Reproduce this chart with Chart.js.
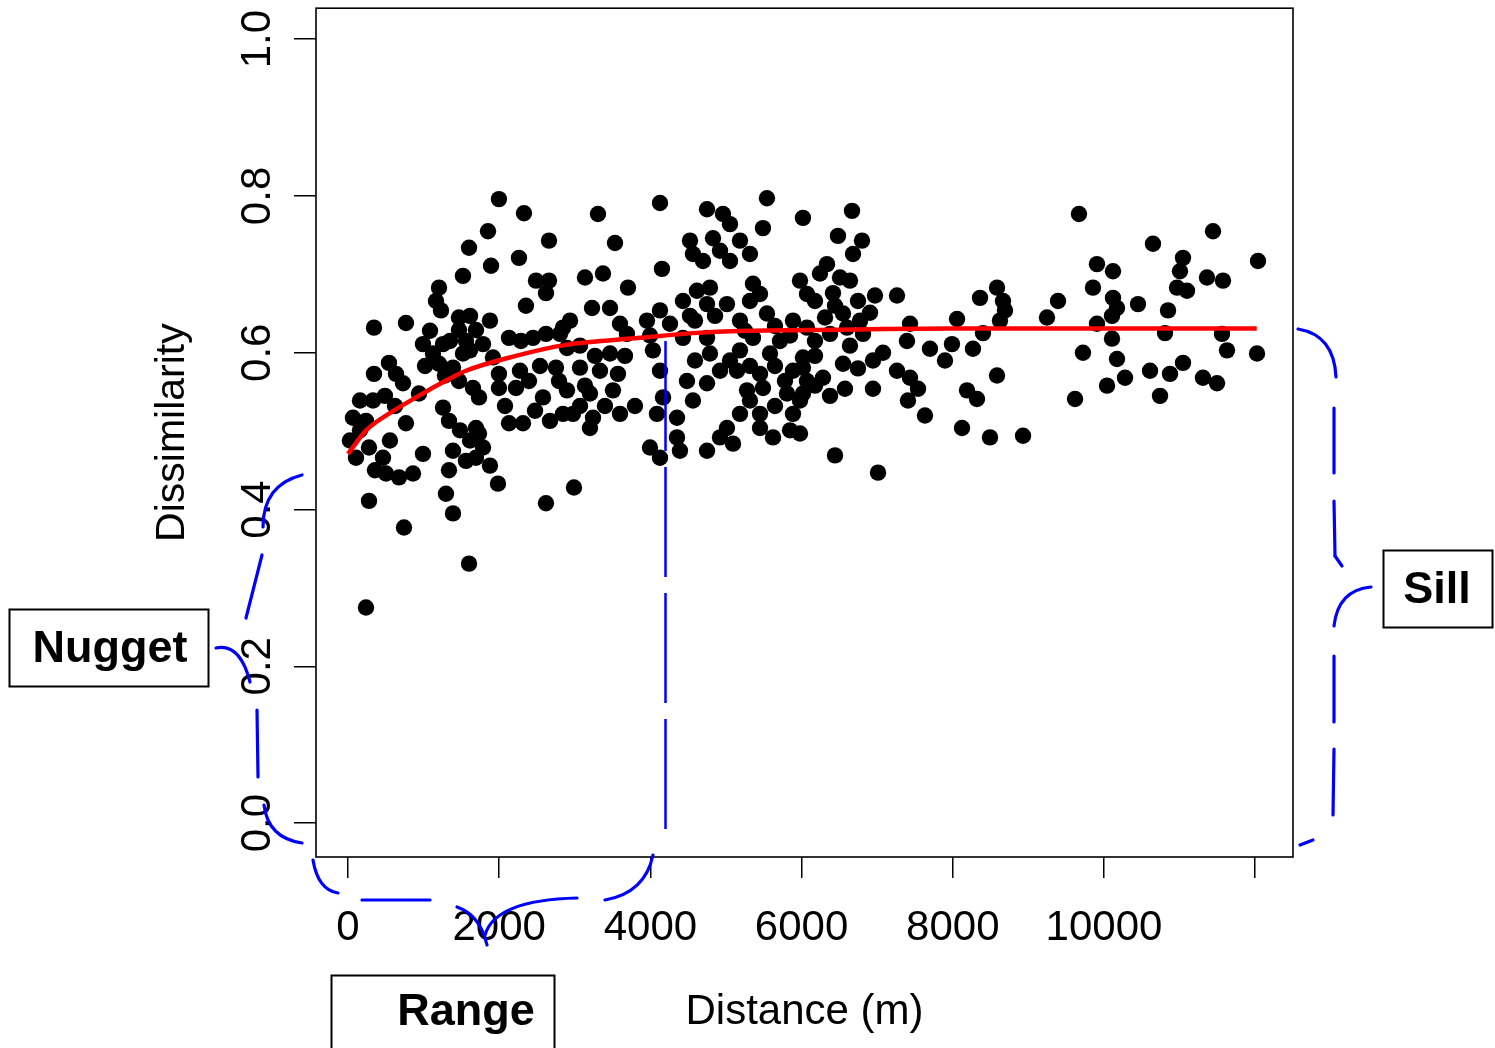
<!DOCTYPE html>
<html>
<head>
<meta charset="utf-8">
<script src="https://cdn.jsdelivr.net/npm/chart.js@4.4.0/dist/chart.umd.min.js"></script>
<style>
html,body{margin:0;padding:0;background:#fff;}
#wrap{width:1495px;height:1048px;position:relative;}
</style>
</head>
<body>
<div id="wrap"><canvas id="c"></canvas></div>
<script>
// ---- data ----
const distance = [
1997,2328,1852,2659,1601,2262,1892,1521,2487,2659,2619,1204,1164,1230,2354,344,767,1468,2844,1468,
1693,1786,1561,2130,2447,2619,1257,1124,1204,1521,1389,1997,542,344,635,728,939,1468,1653,1733,
1997,2222,2394,2579,2751,2791,331,66,238,1257,1336,2130,2315,2844,767,1693,106,278,463,503,
675,860,992,1389,1561,1693,1786,1733,1336,1984,2619,278,1296,1389,741,1601,238,2989,992,1918,
2288,3307,4127,5542,4749,4960,5053,5489,6018,3532,4828,4563,4696,5053,5317,4153,3135,3373,3704,5357,
5979,4788,5450,3228,3466,4431,4127,4749,5013,2937,3598,3955,4259,5185,5542,5886,2804,3690,4431,4749,
5357,5714,2897,3466,4034,4788,5185,5582,6018,3069,3333,3571,4127,4484,4749,5146,5450,5886,2897,3201,
3505,4167,4563,5278,5489,5807,2976,3241,3598,4087,4352,5185,5450,5886,6071,3201,4352,4391,3995,4127,
4749,4921,5093,5013,5450,5622,5847,6667,6481,6799,6680,6336,6243,6508,6640,6071,7262,8360,8585,8664,
8690,6746,6905,6310,6548,6601,7434,8056,8624,9246,6071,6376,6812,7394,8399,7989,8267,7698,7897,7077,
6944,6548,6746,6018,6283,7262,7434,7540,8585,6574,6944,6018,8188,8320,7407,7632,8122,8492,8929,6442,
7011,5979,6415,9669,10648,11442,12037,9907,10119,11045,11005,10966,11098,11362,11574,9854,9392,10119,10172,10106,
10450,10847,9907,10807,11561,10106,9722,10172,11627,12024,11045,10609,10873,11309,11495,10278,10040,10741,9617,
4524,5185,4921,4616,4855,4524,5317,5648,5251,5847,3069,3267,3664,3135,3995,4590,5053,5317,5648,5780,
5317,5648,5979,4590,4921,3069,3399,3796,1349,1614,1878,1085,1614,2275,2540,2474,2672,2077,1019,1283,
489,159,622,6177,6442,6773,6177,6640,6971,6177,6177,6376,26,159,357,555,1481,1614,1878
];
const dissimilarity = [
0.796,0.778,0.755,0.743,0.734,0.721,0.711,0.698,0.692,0.692,0.676,0.683,0.666,0.654,0.660,0.632,0.638,0.645,0.632,0.629,
0.629,0.611,0.615,0.619,0.619,0.624,0.611,0.599,0.586,0.599,0.581,0.573,0.587,0.573,0.573,0.561,0.548,0.564,0.555,0.543,
0.555,0.555,0.564,0.543,0.581,0.564,0.539,0.517,0.513,0.530,0.513,0.510,0.510,0.522,0.510,0.504,0.466,0.479,0.466,0.446,
0.441,0.446,0.471,0.475,0.462,0.466,0.479,0.497,0.450,0.433,0.408,0.411,0.420,0.395,0.377,0.331,0.275,0.428,0.611,0.594,
0.615,0.777,0.791,0.797,0.783,0.777,0.764,0.759,0.772,0.740,0.746,0.726,0.717,0.717,0.726,0.707,0.696,0.701,0.683,0.688,
0.692,0.683,0.675,0.657,0.657,0.666,0.654,0.662,0.662,0.641,0.637,0.641,0.637,0.641,0.650,0.641,0.624,0.624,0.619,0.619,
0.619,0.615,0.606,0.599,0.603,0.599,0.603,0.599,0.594,0.581,0.577,0.573,0.577,0.564,0.561,0.577,0.573,0.577,0.552,0.548,
0.552,0.543,0.539,0.552,0.555,0.548,0.522,0.517,0.522,0.522,0.517,0.522,0.522,0.522,0.564,0.504,0.492,0.475,0.479,0.466,
0.475,0.492,0.484,0.504,0.504,0.492,0.501,0.781,0.749,0.743,0.726,0.713,0.701,0.696,0.692,0.675,0.673,0.670,0.683,0.666,
0.654,0.666,0.651,0.645,0.650,0.632,0.637,0.643,0.641,0.645,0.632,0.624,0.624,0.615,0.625,0.611,0.605,0.605,0.590,0.600,
0.590,0.586,0.580,0.581,0.568,0.577,0.568,0.554,0.571,0.554,0.554,0.548,0.552,0.541,0.539,0.520,0.504,0.492,0.494,0.469,
0.447,0.497,0.676,0.777,0.739,0.755,0.717,0.713,0.704,0.721,0.704,0.683,0.679,0.696,0.692,0.683,0.666,0.670,0.657,0.647,
0.662,0.654,0.637,0.625,0.624,0.618,0.600,0.592,0.603,0.599,0.587,0.577,0.573,0.568,0.561,0.568,0.558,0.545,0.541,
0.743,0.743,0.730,0.679,0.647,0.647,0.666,0.634,0.628,0.622,0.609,0.596,0.596,0.558,0.622,0.641,0.590,0.583,0.583,0.564,
0.539,0.532,0.539,0.590,0.577,0.532,0.532,0.532,0.615,0.647,0.641,0.628,0.603,0.577,0.583,0.526,0.513,0.532,0.583,0.571,
0.545,0.539,0.532,0.666,0.660,0.641,0.615,0.609,0.673,0.596,0.558,0.545,0.488,0.501,0.450,0.488,0.501,0.488,0.456
];
// fitted model curve
const curveDistance = [0, 240, 570, 900, 1230, 1560, 2220, 2880, 3860, 4560, 5280, 6110, 7960, 12020];
const curveDissimilarity = [0.471, 0.501, 0.524, 0.543, 0.561, 0.577, 0.596, 0.610, 0.619, 0.625, 0.628, 0.629, 0.631, 0.631];
// range marker (blue dashed vertical)
const rangeDistance = [4200, 4200];
const rangeDissimilarity = [0.615, -0.018];
// axes
const xTickValues = [0, 2000, 4000, 6000, 8000, 10000, 12000];
const xTickLabels = ['0', '2000', '4000', '6000', '8000', '10000', ''];
const yTickValues = [0, 0.2, 0.4, 0.6, 0.8, 1.0];
const yTickLabels = ['0.0', '0.2', '0.4', '0.6', '0.8', '1.0'];
const xTitle = 'Distance (m)';
const yTitle = 'Dissimilarity';
const noteNugget = 'Nugget';
const noteRange = 'Range';
const noteSill = 'Sill';

const FONT = "'Liberation Sans', Arial, Helvetica, sans-serif";
Chart.defaults.font.family = FONT;
Chart.defaults.color = '#000';

const pts = distance.map((d, i) => ({x: d, y: dissimilarity[i]}));
const curve = curveDistance.map((d, i) => ({x: d, y: curveDissimilarity[i]}));
const rangeLine = rangeDistance.map((d, i) => ({x: d, y: rangeDissimilarity[i]}));

const notes = {
  id: 'notes',
  afterDraw(chart) {
    const {ctx, chartArea: a} = chart;
    const dx = a.left - 316, dxr = a.right - 1293, dyb = a.bottom - 857;
    ctx.save();
    // plot frame
    ctx.strokeStyle = '#000';
    ctx.lineWidth = 1.6;
    ctx.strokeRect(a.left, a.top, a.right - a.left, a.bottom - a.top);

    // hand-drawn braces
    ctx.strokeStyle = '#0000ff';
    ctx.lineWidth = 3.2;
    ctx.lineCap = 'round';
    const q = (x0, y0, cx, cy, x1, y1) => { ctx.beginPath(); ctx.moveTo(x0, y0); ctx.quadraticCurveTo(cx, cy, x1, y1); ctx.stroke(); };
    const l = (x0, y0, x1, y1) => { ctx.beginPath(); ctx.moveTo(x0, y0); ctx.lineTo(x1, y1); ctx.stroke(); };
    // left (nugget)
    q(302+dx, 475, 263+dx, 485, 263+dx, 527);
    l(262+dx, 555, 246+dx, 618);
    q(216+dx, 648, 240+dx, 643, 250+dx, 682);
    l(257+dx, 710, 258+dx, 777);
    q(264+dx, 805, 268+dx, 838, 302+dx, 843+dyb);
    // bottom (range)
    q(313+dx, 860+dyb, 318+dx, 890+dyb, 338+dx, 893+dyb);
    l(362+dx, 900+dyb, 430+dx, 900+dyb);
    q(457+dx, 907+dyb, 480+dx, 915+dyb, 487+dx, 945+dyb);
    q(485+dx, 935+dyb, 495+dx, 900+dyb, 577+dx, 898+dyb);
    q(605+dx, 900+dyb, 645+dx, 893+dyb, 653+dx, 855+dyb);
    // right (sill)
    q(1298+dxr, 329, 1334+dxr, 335, 1336+dxr, 377);
    l(1334+dxr, 408, 1334+dxr, 473);
    l(1334+dxr, 501, 1335+dxr, 556);
    l(1335+dxr, 556, 1342+dxr, 566);
    q(1371+dxr, 587, 1338+dxr, 590, 1334+dxr, 626);
    l(1334+dxr, 656, 1334+dxr, 722);
    l(1334+dxr, 749, 1333+dxr, 815);
    l(1300+dxr, 845, 1313+dxr, 840);

    // label boxes
    ctx.strokeStyle = '#000';
    ctx.lineWidth = 2;
    ctx.strokeRect(9.5, 609.5, 199, 77);
    ctx.strokeRect(331.5+dx, 975.5, 223, 90);
    ctx.strokeRect(1383.5+dxr, 550.5, 109, 77);
    ctx.fillStyle = '#000';
    ctx.font = 'bold 45px ' + FONT;
    ctx.textAlign = 'center';
    ctx.textBaseline = 'alphabetic';
    ctx.fillText(noteNugget, 110, 662);
    ctx.fillText(noteRange, 466+dx, 1025);
    ctx.fillText(noteSill, 1437+dxr, 603);
    ctx.restore();
  }
};

new Chart(document.getElementById('c'), {
  type: 'scatter',
  data: {
    datasets: [
      {
        label: 'model', type: 'line', data: curve, order: 0,
        borderColor: '#ff0000', borderWidth: 4.5, pointRadius: 0,
        cubicInterpolationMode: 'monotone', fill: false
      },
      {
        label: 'range', type: 'line', data: rangeLine, order: 1,
        borderColor: '#0000ff', borderWidth: 2.5, borderDash: [110, 16],
        pointRadius: 0, fill: false, clip: false
      },
      {
        label: 'pairs', data: pts, order: 2,
        backgroundColor: '#000', borderColor: '#000', borderWidth: 0,
        pointRadius: 8.2, pointHoverRadius: 8.2, pointStyle: 'circle'
      }
    ]
  },
  options: {
    responsive: true,
    maintainAspectRatio: false,
    animation: false,
    devicePixelRatio: 1,
    layout: {padding: {top: 7, right: 202, left: 0, bottom: 0}},
    plugins: {legend: {display: false}, tooltip: {enabled: false}},
    scales: {
      x: {
        type: 'linear', position: 'bottom',
        min: -423, max: 12500,
        afterBuildTicks: s => { s.ticks = xTickValues.map(v => ({value: v})); },
        afterFit: s => { s.height = 191; s.paddingLeft = 0; s.paddingRight = 0; },
        ticks: {
          autoSkip: false, maxRotation: 0, minRotation: 0, padding: 25,
          font: {size: 42}, color: '#000',
          callback: (v, i) => xTickLabels[i]
        },
        grid: {display: true, drawOnChartArea: false, drawTicks: true, tickLength: 21, color: '#000', lineWidth: 1.5},
        border: {display: false},
        title: {display: true, text: xTitle, font: {size: 42}, color: '#000', padding: {top: 0, bottom: 10}}
      },
      y: {
        type: 'linear', position: 'left',
        min: -0.0433, max: 1.0395,
        afterBuildTicks: s => { s.ticks = yTickValues.map(v => ({value: v})); },
        afterFit: s => { s.width = 316; s.paddingTop = 0; s.paddingBottom = 0; },
        ticks: {
          autoSkip: false, minRotation: 90, maxRotation: 90, crossAlign: 'center', padding: 6,
          font: {size: 42}, color: '#000',
          callback: (v, i) => yTickLabels[i]
        },
        grid: {display: true, drawOnChartArea: false, drawTicks: true, tickLength: 22, color: '#000', lineWidth: 1.5},
        border: {display: false},
        title: {display: true, text: yTitle, font: {size: 41}, color: '#000', padding: {top: 148, bottom: 0}}
      }
    }
  },
  plugins: [notes]
});
</script>
</body>
</html>
